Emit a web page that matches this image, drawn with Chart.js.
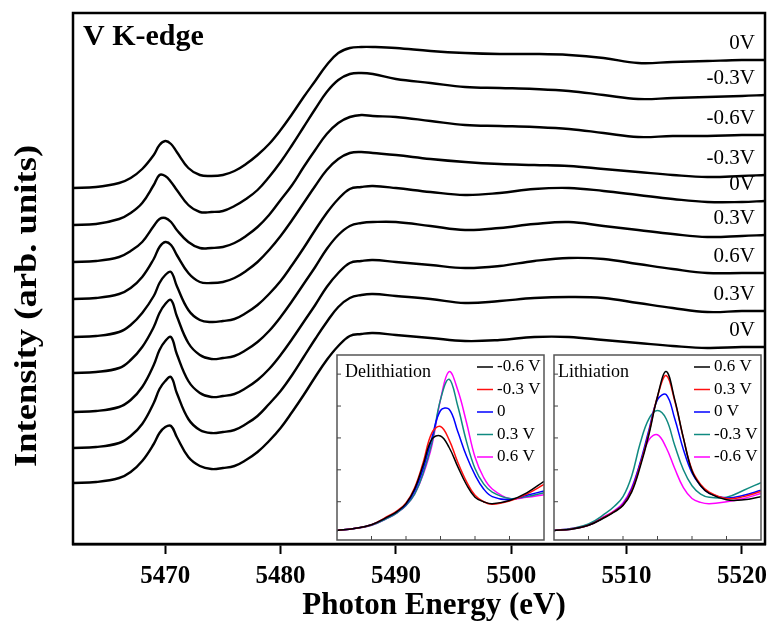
<!DOCTYPE html>
<html><head><meta charset="utf-8">
<script src="https://cdn.jsdelivr.net/npm/chart.js@4.4.1/dist/chart.umd.min.js"></script>
<style>
html,body{margin:0;padding:0;background:#fff;}
#wrap{position:relative;width:768px;height:622px;overflow:hidden;}
#main{position:absolute;left:0;top:0;}
.inset{position:absolute;background:#fff;}
</style></head><body>
<div id="wrap">
<canvas id="main" width="768" height="622"></canvas>
<canvas id="ins1" class="inset" width="211" height="188" style="left:335px;top:353px"></canvas>
<canvas id="ins2" class="inset" width="211" height="188" style="left:552px;top:353px"></canvas>
</div>
<script>
// ---------- main panel data (photon energy, eV; intensity, arb. units, stacked) ----------
const energy = [5462,5464,5466,5467,5468,5469,5469.5,5470,5470.5,5471,5472,5473,5474,5475,5476,5477,5478,5479,5480,5481,5482,5483,5484,5485,5486,5487,5488,5490,5493,5496,5499,5502,5505,5508,5511,5514,5517,5520,5522];
const spec1_0V   = [356,357,361,366,375,389,399,403,400,392,376,369,368,369,373,380,389,400,414,430,447,463,479,491,496,497,497,496,493,491,490,490,489,486,481,482,483,484,484];
const spec2_m03V = [319,320,325,331,341,359,369,368,362,354,339,332,332,333,338,345,354,367,382,399,417,435,452,464,470,471,470,465,461,457,456,455,453,449,445,446,447,448,449];
const spec3_m06V = [282,283,287,293,302,318,325,326,322,314,302,296,296,297,301,308,317,329,344,359,377,394,410,421,427,429,428,427,423,419,418,417,415,411,407,408,408,409,409];
const spec4_m03V = [245,246,250,256,267,285,297,302,299,289,271,262,261,262,266,273,282,294,308,324,341,358,374,385,391,392,391,389,385,382,380,379,378,375,372,369,367,368,369];
const spec5_0V   = [207,208,212,219,231,248,261,269,272,258,234,224,222,223,225,231,239,250,263,279,296,314,331,345,355,357,358,356,352,349,351,355,356,353,349,345,342,342,343];
const spec6_03V  = [171,172,176,184,197,217,231,240,244,228,201,189,185,186,188,194,202,213,227,243,260,277,295,309,318,321,322,322,318,314,316,320,322,318,314,310,307,308,309];
const spec7_06V  = [132,133,137,144,157,179,194,203,207,190,163,151,147,148,150,156,164,175,189,205,222,239,257,271,281,283,284,282,279,276,278,283,286,285,280,275,271,271,271];
const spec8_03V  = [96,97,101,108,120,141,155,163,167,151,125,114,111,112,114,120,128,140,153,169,187,205,222,237,246,249,250,248,245,241,243,246,247,246,241,236,232,233,233];
const spec9_0V   = [61,62,66,72,83,100,111,117,118,107,87,78,75,76,78,84,92,103,116,132,149,167,184,198,208,210,211,209,206,203,204,207,207,204,201,198,196,197,197];
const spectrumLabels = ['0V','-0.3V','-0.6V','-0.3V','0V','0.3V','0.6V','0.3V','0V'];
const xTickValues = [5470,5480,5490,5500,5510,5520];

// ---------- inset data (pre-edge region) ----------
const insetEnergy = [5464,5465,5466,5467,5467.5,5468,5468.5,5469,5469.5,5470,5470.5,5471,5471.5,5472,5472.5,5473,5474,5475,5476];
const delith_m06 = [-0.45,-0.42,-0.36,-0.23,-0.15,-0.03,0.20,0.58,0.98,1.03,0.85,0.55,0.27,0.07,0.00,-0.03,0.02,0.14,0.32];
const delith_m03 = [-0.45,-0.42,-0.36,-0.22,-0.14,-0.02,0.22,0.62,1.08,1.18,0.97,0.62,0.32,0.10,0.00,-0.04,0.01,0.12,0.27];
const delith_0   = [-0.45,-0.42,-0.36,-0.23,-0.15,-0.04,0.17,0.52,1.00,1.43,1.45,1.10,0.72,0.42,0.20,0.08,0.03,0.10,0.17];
const delith_p03 = [-0.45,-0.42,-0.37,-0.25,-0.17,-0.06,0.12,0.45,0.92,1.60,1.92,1.50,0.95,0.52,0.28,0.15,0.05,0.08,0.14];
const delith_p06 = [-0.45,-0.42,-0.37,-0.25,-0.17,-0.06,0.12,0.43,0.88,1.60,2.04,1.75,1.25,0.70,0.38,0.20,0.05,0.07,0.11];
const delithLabels = ['-0.6 V','-0.3 V','0','0.3 V','0.6 V'];
const lith_p06 = [-0.45,-0.43,-0.37,-0.24,-0.16,-0.06,0.15,0.55,1.05,1.65,2.04,1.60,1.00,0.48,0.25,0.13,0.03,0.03,0.08];
const lith_p03 = [-0.45,-0.43,-0.37,-0.23,-0.15,-0.05,0.17,0.58,1.08,1.65,1.98,1.58,1.00,0.50,0.27,0.15,0.05,0.08,0.16];
const lith_0   = [-0.45,-0.43,-0.37,-0.23,-0.15,-0.04,0.20,0.62,1.12,1.60,1.68,1.30,0.82,0.45,0.25,0.13,0.06,0.10,0.18];
const lith_m03 = [-0.45,-0.42,-0.35,-0.18,-0.07,0.08,0.40,0.92,1.30,1.43,1.30,0.88,0.50,0.25,0.12,0.07,0.07,0.18,0.30];
const lith_m06 = [-0.45,-0.42,-0.36,-0.22,-0.14,-0.02,0.22,0.60,0.97,1.05,0.85,0.52,0.22,0.05,-0.01,-0.03,0.00,0.05,0.13];
const lithLabels = ['0.6 V','0.3 V','0 V','-0.3 V','-0.6 V'];
const insetXTicks = [5466,5468,5470,5472,5474];
const insetYTicks = [0,0.5,1,1.5,2];

// ---------- styling ----------
const serif = "'Liberation Serif','Times New Roman',serif";
const insetColors = ['#000000','#ff1010','#0000ff','#108a80','#ff00ff'];
Chart.defaults.font.family = serif;
Chart.defaults.color = '#000';

const spectra = [spec1_0V,spec2_m03V,spec3_m06V,spec4_m03V,spec5_0V,spec6_03V,spec7_06V,spec8_03V,spec9_0V];

const mainDeco = {
  id: 'mainDeco',
  afterDatasetsDraw(chart) {
    const {ctx, chartArea: a, scales: {y}} = chart;
    ctx.save();
    ctx.strokeStyle = '#000'; ctx.lineWidth = 2.5;
    ctx.strokeRect(a.left, a.top, a.right - a.left, a.bottom - a.top);
    ctx.fillStyle = '#000';
    ctx.font = 'bold 30px ' + serif; ctx.textAlign = 'left'; ctx.textBaseline = 'alphabetic';
    ctx.fillText('V K-edge', a.left + 10, a.top + 32);
    ctx.font = '21px ' + serif; ctx.textAlign = 'right'; ctx.textBaseline = 'middle';
    spectra.forEach((s, i) => {
      const py = y.getPixelForValue(s[s.length - 1]) - 17;
      ctx.fillText(spectrumLabels[i], a.right - 10, py);
    });
    ctx.restore();
  },
  afterDraw(chart) {
    const {ctx} = chart;
    ctx.save();
    ctx.fillStyle = '#000';
    ctx.textAlign = 'center'; ctx.textBaseline = 'middle';
    ctx.font = 'bold 31px ' + serif;
    ctx.fillText('Photon Energy (eV)', 434, 606);
    ctx.translate(28, 306);
    ctx.rotate(-Math.PI / 2);
    ctx.scale(1.18, 1);
    ctx.font = 'bold 31px ' + serif;
    ctx.fillText('Intensity (arb. units)', 0, 0);
    ctx.restore();
  }
};

new Chart(document.getElementById('main'), {
  type: 'line',
  data: {
    datasets: spectra.map((s, i) => ({
      label: spectrumLabels[i],
      data: energy.map((e, j) => ({x: e, y: s[j]})),
      borderColor: '#000', borderWidth: 2.4, pointRadius: 0,
      tension: 0.4, fill: false
    }))
  },
  options: {
    responsive: false, animation: false,
    layout: {padding: {top: 13, right: 3, left: 0, bottom: 0}},
    plugins: {legend: {display: false}, tooltip: {enabled: false}},
    scales: {
      x: {
        type: 'linear', min: 5462, max: 5522,
        afterBuildTicks: s => { s.ticks = xTickValues.map(v => ({value: v})); },
        afterFit: s => { s.height = 78; s.paddingLeft = 0; s.paddingRight = 0; },
        ticks: {font: {size: 25, weight: 'bold'}, padding: 8, maxRotation: 0, autoSkip: false, color: '#000', callback: v => String(v)},
        grid: {drawOnChartArea: false, drawTicks: true, tickLength: 10, tickWidth: 2, color: '#000'},
        border: {display: true, color: '#000', width: 2.5},
        title: {display: false}
      },
      y: {
        min: 0, max: 531,
        afterFit: s => { s.width = 73; s.paddingTop = 0; s.paddingBottom = 0; },
        ticks: {display: false}, grid: {display: false}, border: {display: false},
        title: {display: false}
      }
    }
  },
  plugins: [mainDeco]
});

// ---------- insets ----------
const insetDeco = {
  id: 'insetDeco',
  afterDatasetsDraw(chart, args, opts) {
    const {ctx, chartArea: a, scales: {x, y}} = chart;
    const line = (x1, y1, x2, y2) => { ctx.beginPath(); ctx.moveTo(x1, y1); ctx.lineTo(x2, y2); ctx.stroke(); };
    ctx.save();
    ctx.strokeStyle = '#555'; ctx.lineWidth = 1.5;
    ctx.strokeRect(a.left, a.top, a.right - a.left, a.bottom - a.top);
    ctx.lineWidth = 1; ctx.strokeStyle = '#444';
    insetXTicks.forEach(v => { const px = x.getPixelForValue(v); line(px, a.bottom, px, a.bottom - 4); });
    insetYTicks.forEach(v => { const py = y.getPixelForValue(v); line(a.left, py, a.left + 4, py); });
    ctx.fillStyle = '#000'; ctx.textBaseline = 'middle'; ctx.textAlign = 'left';
    ctx.font = '18px ' + serif;
    ctx.fillText(opts.title, a.left + opts.titleX, a.top + 17);
    ctx.font = '17px ' + serif;
    chart.data.datasets.forEach((d, i) => {
      const yy = a.top + 12 + 22.5 * i;
      ctx.strokeStyle = d.borderColor; ctx.lineWidth = 1.5;
      line(a.left + 140, yy, a.left + 156, yy);
      ctx.fillStyle = '#000';
      ctx.fillText(d.label, a.left + 160, yy);
    });
    ctx.restore();
  }
};

function insetConfig(series, labels, title, titleX) {
  return {
    type: 'line',
    data: {
      datasets: series.map((s, i) => ({
        label: labels[i],
        data: insetEnergy.map((e, j) => ({x: e, y: s[j]})),
        borderColor: insetColors[i], borderWidth: 1.5, pointRadius: 0,
        tension: 0.4, fill: false
      }))
    },
    options: {
      responsive: false, animation: false,
      layout: {padding: {top: 2, left: 2, right: 2, bottom: 1}},
      plugins: {legend: {display: false}, tooltip: {enabled: false}, insetDeco: {title: title, titleX: titleX}},
      scales: {
        x: {type: 'linear', min: 5464, max: 5476, display: false},
        y: {min: -0.6, max: 2.3, display: false}
      }
    },
    plugins: [insetDeco]
  };
}

new Chart(document.getElementById('ins1'),
  insetConfig([delith_m06, delith_m03, delith_0, delith_p03, delith_p06], delithLabels, 'Delithiation', 8));
new Chart(document.getElementById('ins2'),
  insetConfig([lith_p06, lith_p03, lith_0, lith_m03, lith_m06], lithLabels, 'Lithiation', 4));
</script>
</body></html>
